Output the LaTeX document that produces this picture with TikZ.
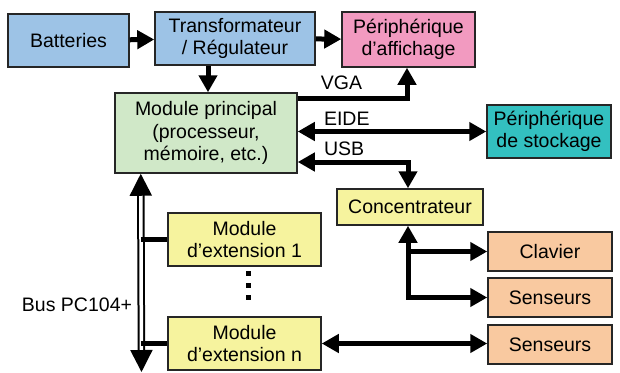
\documentclass[tikz,border=0pt]{standalone}
\usepackage{fontspec}
\setmainfont{Liberation Sans}
\usetikzlibrary{arrows.meta,positioning}

\definecolor{bleu}{RGB}{157,195,230}
\definecolor{rose}{RGB}{242,154,192}
\definecolor{vert}{RGB}{208,232,200}
\definecolor{turquoise}{RGB}{51,192,192}
\definecolor{jaune}{RGB}{246,243,158}
\definecolor{peche}{RGB}{249,201,160}

\begin{document}
\begin{tikzpicture}[x=1pt,y=-1pt,
    font=\fontsize{19.5}{22.5}\selectfont,
    bloc/.style={draw=black!85,line width=1.5pt,align=center,inner sep=0pt},
    etiq/.style={inner sep=0pt,above=4pt},
    fleche/.style={line width=5pt,-{Triangle[width=18pt,length=17pt]}},
    dfleche/.style={line width=5pt,{Triangle[width=18pt,length=17pt]}-{Triangle[width=18pt,length=17pt]}}]

\useasboundingbox (0,0) rectangle (620,372);

% alimentation et affichage
\node[bloc,fill=bleu,minimum width=121pt,minimum height=53pt] (bat) at (68.5,40.5) {Batteries};
\node[bloc,fill=bleu,minimum width=160pt,minimum height=53pt] (transfo) at (235,38.5) {Transformateur\\/ Régulateur};
\node[bloc,fill=rose,minimum width=133pt,minimum height=55pt] (affich) at (408.5,39.5) {Périphérique\\d’affichage};
\node[bloc,fill=vert,minimum width=182pt,minimum height=80pt] (princ) at (206,133) {Module principal\\(processeur,\\mémoire, etc.)};
\node[bloc,fill=turquoise,minimum width=124pt,minimum height=53pt] (stock) at (549,131.5) {Périphérique\\de stockage};

% USB
\node[bloc,fill=jaune,minimum width=146pt,minimum height=36pt] (concent) at (410,207) {Concentrateur};
\node[bloc,fill=peche,minimum width=124pt,minimum height=39pt] (clavier) at (550,251.5) {Clavier};
\node[bloc,fill=peche,minimum width=124pt,minimum height=39pt] (sens1) at (550,297.5) {Senseurs};
\node[bloc,fill=peche,minimum width=124pt,minimum height=39pt] (sens2) at (550,344.5) {Senseurs};

% modules sur le bus
\node[bloc,fill=jaune,minimum width=153pt,minimum height=53pt] (ext1) at (244.5,239.5) {Module\\d’extension 1};
\node[bloc,fill=jaune,minimum width=153pt,minimum height=53pt] (extn) at (244.5,343.5) {Module\\d’extension n};
\foreach \y in {273,285,297}
  \fill (245.5,\y-2.5) rectangle ++(5,5);

\draw[fleche] (bat) -- (transfo);
\draw[fleche] (transfo) -- (affich);
\draw[fleche] ([xshift=-27pt]transfo.south) -- ([xshift=-27pt]transfo.south |- princ.north);

\draw[fleche] ([yshift=35pt]princ.east) -| node[etiq,pos=0.2,above=6pt] {VGA} ([xshift=-1.5pt]affich.south);
\draw[dfleche] (princ.east |- stock.west) -- node[etiq,pos=0.26] {EIDE} (stock.west);
\draw[dfleche] ([yshift=-29pt]princ.east) -| node[etiq,pos=0.21] {USB} ([xshift=-2pt]concent.north);

\draw[dfleche] ([xshift=-2pt]concent.south) |- (sens1.west);
\draw[fleche] ([xshift=-2pt]concent.south |- clavier.west) -- (clavier.west);
\draw[dfleche] (extn.east) -- (sens2.west |- extn.east);

% bus PC104+
\coordinate (bushaut) at ([xshift=26.5pt]princ.south west);
\coordinate (busbas) at (141.5,372);
\draw[double,double distance=3.5pt,line width=2pt,
  {Triangle[width=22pt,length=22pt]}-{Triangle[width=22pt,length=22pt]}] (bushaut) -- (busbas);
\draw[line width=5pt] (bushaut |- ext1.west) -- (ext1.west);
\draw[line width=5pt] (bushaut |- extn.west) -- (extn.west);
\node (bus) at (77,305) {Bus PC104+};

\end{tikzpicture}
\end{document}
